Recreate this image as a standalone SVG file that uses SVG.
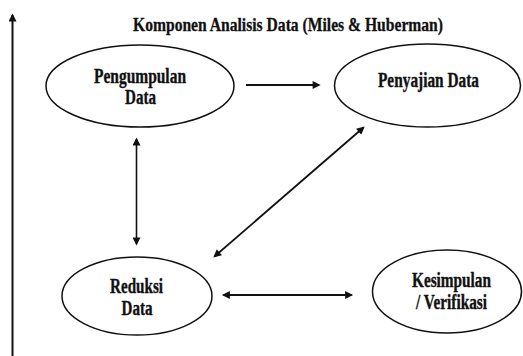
<svg xmlns="http://www.w3.org/2000/svg" width="523" height="356" viewBox="0 0 523 356">
<style>
  .node ellipse { fill: #fff; stroke: #111; stroke-width: 1.5; }
  .lbl { font-family: "Liberation Serif", "DejaVu Serif", serif; font-weight: bold; font-size: 20px; fill: #111; stroke: #111; stroke-width: 0.35; }
  .title { font-family: "Liberation Serif", "DejaVu Serif", serif; font-weight: bold; font-size: 19.5px; fill: #111; stroke: #111; stroke-width: 0.3; }
  .conn line { stroke: #111; fill: none; }
</style>
<defs>
  <marker id="ah" viewBox="0 0 10 10" refX="8" refY="5" markerUnits="userSpaceOnUse" markerWidth="9" markerHeight="8" orient="auto-start-reverse">
    <path d="M0,0 L10,5 L0,10 z" fill="#111"/>
  </marker>
</defs>
<rect width="523" height="356" fill="#fff"/>
<text class="title" x="133" y="31" textLength="310" lengthAdjust="spacingAndGlyphs">Komponen Analisis Data (Miles &amp; Huberman)</text>
<g id="pengumpulan" class="node">
  <ellipse cx="140" cy="86" rx="94" ry="41"/>
  <text class="lbl" x="94" y="82.5" textLength="92" lengthAdjust="spacingAndGlyphs">Pengumpulan</text>
  <text class="lbl" x="125" y="104" textLength="31" lengthAdjust="spacingAndGlyphs">Data</text>
</g>
<g id="penyajian" class="node">
  <ellipse cx="427.5" cy="85.5" rx="93" ry="41.5"/>
  <text class="lbl" x="378" y="86.5" textLength="101" lengthAdjust="spacingAndGlyphs">Penyajian Data</text>
</g>
<g id="reduksi" class="node">
  <ellipse cx="137" cy="296" rx="75" ry="39"/>
  <text class="lbl" x="110" y="293" textLength="53" lengthAdjust="spacingAndGlyphs">Reduksi</text>
  <text class="lbl" x="121.5" y="315" textLength="31" lengthAdjust="spacingAndGlyphs">Data</text>
</g>
<g id="kesimpulan" class="node">
  <ellipse cx="447" cy="291.5" rx="74.5" ry="41.5"/>
  <text class="lbl" x="412" y="287" textLength="79" lengthAdjust="spacingAndGlyphs">Kesimpulan</text>
  <text class="lbl" x="416" y="308.5" textLength="71" lengthAdjust="spacingAndGlyphs">/ Verifikasi</text>
</g>
<g id="connectors" class="conn">
  <line x1="12.5" y1="360" x2="12.5" y2="15" stroke-width="2" marker-end="url(#ah)"/>
  <line x1="246" y1="85" x2="319" y2="85" stroke-width="2.2" marker-end="url(#ah)"/>
  <line x1="136.5" y1="139" x2="136.5" y2="244" stroke-width="1.6" marker-start="url(#ah)" marker-end="url(#ah)"/>
  <line x1="363.5" y1="127.5" x2="214.5" y2="256.5" stroke-width="1.8" marker-start="url(#ah)" marker-end="url(#ah)"/>
  <line x1="223.5" y1="295" x2="351.5" y2="295" stroke-width="2" marker-start="url(#ah)" marker-end="url(#ah)"/>
</g>
</svg>
